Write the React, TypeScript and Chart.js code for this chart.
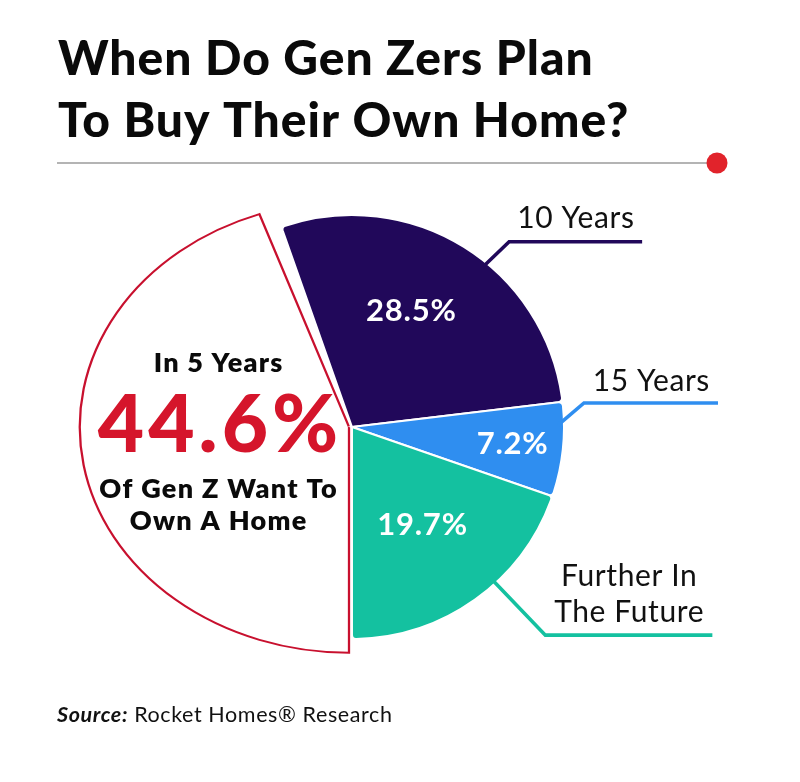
import React, { useEffect, useRef } from 'react';
import { Chart, registerables } from 'chart.js';

Chart.register(...registerables);

// ---------- data ----------
const categories = ['In 5 Years', '10 Years', '15 Years', 'Further In The Future'];
const values = [44.6, 28.5, 7.2, 19.7];
const valueLabels = ['44.6%', '28.5%', '7.2%', '19.7%'];
const calloutLabels = [[], ['10 Years'], ['15 Years'], ['Further In', 'The Future']];
const titleLines = ['When Do Gen Zers Plan', 'To Buy Their Own Home?'];
const heroTop = 'In 5 Years';
const heroBottom = ['Of Gen Z Want To', 'Own A Home'];
const sourceLabel = 'Source:';
const sourceText = ' Rocket Homes\u00AE Research';

// ---------- styles ----------
const sliceColors = ['#ffffff', '#21085a', '#2f8ef0', '#14c1a0'];
const sliceBorders = ['#c8102e', '#ffffff', '#ffffff', '#ffffff'];
const RED = '#d5152b';
const FONT = 'Lato, "Noto Sans", sans-serif';

// white slice is drawn stretched (as in the reference illustration)
const HERO_SX = 1.27;
const HERO_SY = 1.065;
const HERO_SHIFT = -3;

// label placement inside slices: fraction along the slice angle, radius fraction
const valuePos = [null, { f: 0.452, r: 0.613 }, { f: 0.5, r: 0.76 }, { f: 0.5, r: 0.57 }];
// callouts: anchor fraction, elbow vector, horizontal length, text baseline offsets
const calloutPos = [
  null,
  { f: 0.572, dx: 23, dy: -21, len: 133, base: [-14] },
  { f: 0.243, dx: 20, dy: -22, len: 134, base: [-12] },
  { f: 0.4, dx: 50, dy: 52, len: 167, base: [-49, -13] },
];

function arcPoint(arc: any, f: number, r: number) {
  const a = arc.startAngle + (arc.endAngle - arc.startAngle) * f;
  return { x: arc.x + Math.cos(a) * r, y: arc.y + Math.sin(a) * r };
}

function setSpacing(ctx: any, px: number) {
  if ('letterSpacing' in ctx) ctx.letterSpacing = `${px}px`;
}

function centeredText(ctx: any, text: string, cx: number, y: number, spacing: number) {
  setSpacing(ctx, spacing);
  const w = ctx.measureText(text).width - spacing;
  ctx.textAlign = 'left';
  ctx.fillText(text, cx - w / 2, y);
  setSpacing(ctx, 0);
}

const decor = {
  id: 'decor',
  beforeDraw(chart: any) {
    const ctx = chart.ctx as CanvasRenderingContext2D;
    ctx.save();
    ctx.fillStyle = '#ffffff';
    ctx.fillRect(0, 0, chart.width, chart.height);
    // title
    ctx.fillStyle = '#0a0a0a';
    ctx.textAlign = 'left';
    ctx.textBaseline = 'alphabetic';
    ctx.font = `900 48px ${FONT}`;
    setSpacing(ctx, 1);
    ctx.fillText(titleLines[0], 58, 75);
    ctx.fillText(titleLines[1], 58, 137);
    setSpacing(ctx, 0);
    // separator
    ctx.strokeStyle = '#9b9b9b';
    ctx.lineWidth = 1.5;
    ctx.beginPath();
    ctx.moveTo(57, 163);
    ctx.lineTo(712, 163);
    ctx.stroke();
    ctx.fillStyle = '#e1232b';
    ctx.beginPath();
    ctx.arc(717, 163, 10.5, 0, Math.PI * 2);
    ctx.fill();
    // source
    ctx.fillStyle = '#111111';
    setSpacing(ctx, 0.6);
    ctx.font = `italic 700 21.5px ${FONT}`;
    ctx.fillText(sourceLabel, 57, 722);
    const w = ctx.measureText(sourceLabel).width;
    ctx.font = `400 21.5px ${FONT}`;
    ctx.fillText(sourceText, 57 + w, 722);
    setSpacing(ctx, 0);
    ctx.restore();
  },
  beforeDatasetDraw(chart: any, args: any) {
    const ctx = chart.ctx as CanvasRenderingContext2D;
    args.meta.data.forEach((arc: any, i: number) => {
      if (i === 0) {
        ctx.save();
        ctx.translate(arc.x + HERO_SHIFT, arc.y);
        ctx.scale(HERO_SX, HERO_SY);
        ctx.translate(-arc.x, -arc.y);
        arc.draw(ctx);
        ctx.restore();
      } else {
        arc.draw(ctx);
      }
    });
    return false;
  },
  afterDatasetsDraw(chart: any) {
    const ctx = chart.ctx as CanvasRenderingContext2D;
    const arcs = chart.getDatasetMeta(0).data;
    ctx.save();
    // callouts
    arcs.forEach((arc: any, i: number) => {
      const c = calloutPos[i];
      if (!c) return;
      const p = arcPoint(arc, c.f, arc.outerRadius - 6);
      const p0 = arcPoint(arc, c.f, arc.outerRadius);
      const ex = p0.x + c.dx;
      const ey = p0.y + c.dy;
      ctx.strokeStyle = sliceColors[i];
      ctx.lineWidth = 3.6;
      ctx.lineJoin = 'miter';
      ctx.lineCap = 'butt';
      ctx.beginPath();
      ctx.moveTo(p.x, p.y);
      ctx.lineTo(ex, ey);
      ctx.lineTo(ex + c.len, ey);
      ctx.stroke();
      ctx.fillStyle = '#111111';
      ctx.font = `400 30px ${FONT}`;
      ctx.textBaseline = 'alphabetic';
      calloutLabels[i].forEach((t, k) => centeredText(ctx, t, ex + c.len / 2, ey + c.base[k], 0.6));
    });
    // values inside slices
    arcs.forEach((arc: any, i: number) => {
      const v = valuePos[i];
      if (!v) return;
      const p = arcPoint(arc, v.f, arc.outerRadius * v.r);
      ctx.fillStyle = '#ffffff';
      ctx.font = `700 31px ${FONT}`;
      ctx.textBaseline = 'middle';
      centeredText(ctx, valueLabels[i], p.x, p.y, 0.8);
    });
    // hero text in the white slice
    const hero = arcs[0];
    const hx = hero.x - 134;
    ctx.textBaseline = 'alphabetic';
    ctx.fillStyle = '#0a0a0a';
    ctx.font = `800 27px ${FONT}`;
    centeredText(ctx, heroTop, hx, hero.y - 55, 1.2);
    ctx.fillStyle = RED;
    ctx.font = `900 80px ${FONT}`;
    centeredText(ctx, valueLabels[0], hx, hero.y + 25, 4);
    ctx.fillStyle = '#0a0a0a';
    ctx.font = `800 27px ${FONT}`;
    centeredText(ctx, heroBottom[0], hx, hero.y + 71, 1.3);
    centeredText(ctx, heroBottom[1], hx, hero.y + 103, 1.3);
    ctx.restore();
  },
};

export default function App() {
  const ref = useRef<HTMLCanvasElement>(null);
  useEffect(() => {
    const canvas = ref.current;
    if (!canvas) return;
    const chart = new Chart(canvas, {
      type: 'pie',
      data: {
        labels: categories,
        datasets: [
          {
            data: values,
            backgroundColor: sliceColors,
            borderColor: sliceBorders,
            borderWidth: [1.8, 2, 2, 2],
            borderJoinStyle: 'miter',
            borderRadius: (c: any) => (c.dataIndex === 0 ? 0 : 4),
          } as any,
        ],
      },
      options: {
        responsive: false,
        animation: false,
        rotation: 180,
        radius: 212,
        events: [],
        layout: { padding: { left: 100, right: 196, top: 200, bottom: 128 } },
        plugins: {
          legend: { display: false },
          tooltip: { enabled: false },
          title: { display: false },
        },
      } as any,
      plugins: [decor as any],
    });
    return () => chart.destroy();
  }, []);
  return (
    <div style={{ position: 'absolute', left: 0, top: 0, width: 800, height: 782, background: '#fff' }}>
      <canvas ref={ref} width={800} height={782} style={{ display: 'block' }} />
    </div>
  );
}
